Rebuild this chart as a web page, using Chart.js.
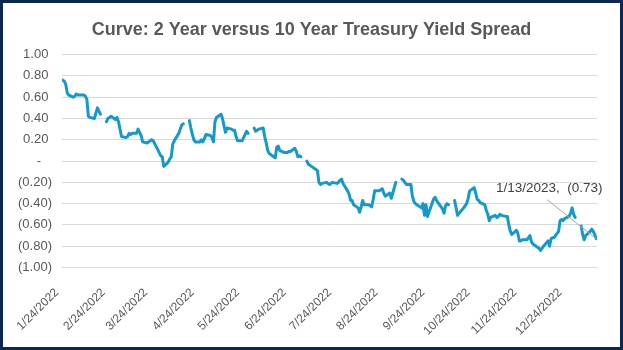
<!DOCTYPE html>
<html>
<head>
<meta charset="utf-8">
<script src="https://cdn.jsdelivr.net/npm/chart.js@4.4.1/dist/chart.umd.min.js"></script>
<style>
  html, body { margin: 0; padding: 0; background: #fff; }
  #wrap { width: 623px; height: 350px; }
</style>
</head>
<body>
<div id="wrap"><canvas id="spreadChart" width="623" height="350"></canvas></div>
<script>
// business days 1/24/2022 .. 1/13/2023, null = market holiday (gap in the line)
const firstDay = "2022-01-24";
const lastDay = "2023-01-13";

const spread = [
  0.76, 0.75, 0.72, 0.64, 0.62,
  0.60, 0.61, 0.63, 0.62, 0.62,
  0.62, 0.61, 0.58, 0.42, 0.41,
  0.40, 0.45, 0.50, 0.47, 0.44,
  null, 0.37, 0.40, 0.41, 0.42,
  0.39, 0.41, 0.37, 0.30, 0.23,
  0.22, 0.23, 0.26, 0.25, 0.26,
  0.26, 0.30, 0.27, 0.24, 0.18,
  0.17, 0.18, 0.19, 0.20, 0.19,
  0.11, 0.08, 0.05, 0.04, -0.05,
  -0.01, 0.02, 0.04, 0.16, 0.19,
  0.26, 0.30, 0.34, 0.35, null,
  0.38, 0.31, 0.25, 0.20, 0.18,
  0.18, 0.20, 0.18, 0.21, 0.25,
  0.24, 0.22, 0.18, 0.37, 0.41,
  0.44, 0.40, 0.33, 0.27, 0.31,
  0.30, 0.29, 0.29, 0.23, 0.19,
  0.19, 0.22, 0.25, 0.28, 0.26,
  null, 0.31, 0.28, 0.29, 0.30,
  0.31, 0.23, 0.17, 0.10, 0.07,
  0.04, 0.03, 0.13, 0.14, 0.10,
  0.08, 0.08, 0.08, 0.09, 0.09,
  0.12, 0.09, 0.04, 0.05, 0.04,
  null, 0.00, -0.03, -0.04, -0.05,
  -0.08, -0.09, -0.20, -0.22, -0.21,
  -0.20, -0.21, -0.22, -0.21, -0.20,
  -0.21, -0.20, -0.18, -0.17, -0.21,
  -0.28, -0.31, -0.37, -0.37, -0.41,
  -0.44, -0.48, -0.43, -0.37, -0.41,
  -0.41, -0.42, -0.43, -0.36, -0.28,
  -0.28, -0.27, -0.26, -0.30, -0.33,
  -0.30, -0.35, -0.30, -0.25, -0.20,
  null, -0.17, -0.18, -0.20, -0.22,
  -0.22, -0.33, -0.38, -0.40, -0.41,
  -0.44, -0.40, -0.51, -0.41, -0.52,
  -0.40, -0.36, -0.34, -0.37, -0.39,
  -0.45, -0.49, -0.42, -0.40, -0.41,
  null, -0.37, -0.44, -0.51, -0.49,
  -0.44, -0.42, -0.40, -0.35, -0.28,
  -0.25, -0.30, -0.36, -0.37, -0.39,
  -0.41, -0.46, -0.50, -0.56, -0.53,
  -0.51, -0.53, -0.52, -0.50, -0.51,
  -0.52, -0.52, -0.60, -0.66, -0.69,
  -0.65, -0.68, -0.75, -0.75, -0.74,
  -0.74, -0.72, -0.70, -0.76, -0.78,
  -0.81, -0.82, -0.84, -0.82, -0.80,
  -0.75, -0.80, -0.73, -0.72, -0.72,
  -0.66, -0.56, -0.55, -0.56, -0.54,
  -0.52, -0.49, -0.44, -0.50, -0.53,
  null, -0.61, -0.69, -0.74, -0.70,
  -0.66, -0.64, -0.66, -0.69, -0.73
];

const tickLabels = [
  "1/24/2022", "2/24/2022", "3/24/2022", "4/24/2022", "5/24/2022", "6/24/2022",
  "7/24/2022", "8/24/2022", "9/24/2022", "10/24/2022", "11/24/2022", "12/24/2022"
];

const titleText = "Curve: 2 Year versus 10 Year Treasury Yield Spread";
const lineColor = "#1499cf";
const textColor = "#595959";

const DAY = 86400000;
const t0 = Date.parse(firstDay + "T00:00:00Z");

function businessDays(from, to) {
  const out = [];
  let t = Date.parse(from + "T00:00:00Z");
  const end = Date.parse(to + "T00:00:00Z");
  while (t <= end) {
    const wd = new Date(t).getUTCDay();
    if (wd !== 0 && wd !== 6) out.push(t);
    t += DAY;
  }
  return out;
}

function parseUS(s) {
  const [m, d, y] = s.split("/").map(Number);
  return Date.UTC(y, m - 1, d);
}

function fmtUS(t) {
  const d = new Date(t);
  return (d.getUTCMonth() + 1) + "/" + d.getUTCDate() + "/" + d.getUTCFullYear();
}

function fmtVal(v) {
  if (Math.abs(v) < 1e-9) return "-";
  return v < 0 ? "(" + (-v).toFixed(2) + ")" : v.toFixed(2);
}

const days = businessDays(firstDay, lastDay);
const points = days.map((t, i) => ({ x: (t - t0) / DAY, y: spread[i] }));
const tickDays = tickLabels.map(s => (parseUS(s) - t0) / DAY);
const lastIdx = days.length - 1;
const lastText = fmtUS(days[lastIdx]) + ",  " + fmtVal(spread[lastIdx]);

const frame = {
  id: "frame",
  beforeDraw(chart) {
    const c = chart.ctx;
    c.save();
    c.fillStyle = "#fff";
    c.fillRect(0, 0, chart.width, chart.height);
    c.restore();
  },
  afterDraw(chart) {
    const c = chart.ctx;
    c.save();
    c.strokeStyle = "#0c2850";
    c.lineWidth = 3;
    c.strokeRect(1.5, 1.5, chart.width - 3, chart.height - 3);
    c.restore();
  }
};

const lastPointLabel = {
  id: "lastPointLabel",
  afterDatasetsDraw(chart) {
    const meta = chart.getDatasetMeta(0);
    const pt = meta.data[meta.data.length - 1];
    const c = chart.ctx;
    c.save();
    c.strokeStyle = "#a6a6a6";
    c.lineWidth = 1;
    c.beginPath();
    c.moveTo(pt.x - 49, pt.y - 39);
    c.lineTo(pt.x, pt.y);
    c.stroke();
    c.fillStyle = "#404040";
    c.font = "13.5px 'Liberation Sans'";
    c.textAlign = "center";
    c.textBaseline = "middle";
    c.fillText(lastText, pt.x - 47, pt.y - 50);
    c.restore();
  }
};

const ctx = document.getElementById("spreadChart").getContext("2d");

new Chart(ctx, {
  type: "line",
  data: {
    datasets: [{
      label: "2s10s",
      data: points,
      borderColor: lineColor,
      borderWidth: 3,
      pointRadius: 0,
      tension: 0,
      borderJoinStyle: "round",
      borderCapStyle: "round",
      spanGaps: false
    }]
  },
  options: {
    responsive: false,
    animation: false,
    devicePixelRatio: 1,
    layout: { padding: 0 },
    plugins: {
      legend: { display: false },
      tooltip: { enabled: false },
      title: {
        display: true,
        text: titleText,
        color: textColor,
        font: { family: "Liberation Sans", size: 18, weight: "bold" },
        padding: { top: 19, bottom: 14 }
      }
    },
    scales: {
      x: {
        type: "linear",
        min: -0.5,
        max: 354.5,
        grid: { display: false },
        border: { display: false },
        afterBuildTicks: scale => { scale.ticks = tickDays.map(v => ({ value: v })); },
        afterFit: scale => { scale.height = 82.5; },
        ticks: {
          autoSkip: false,
          minRotation: 45,
          maxRotation: 45,
          padding: 10,
          labelOffset: -6,
          color: textColor,
          font: { family: "Liberation Sans", size: 12 },
          callback: v => tickLabels[tickDays.indexOf(v)] || ""
        }
      },
      y: {
        min: -1,
        max: 1,
        afterFit: scale => { scale.width = 62; },
        border: { display: false },
        grid: { color: "#d9d9d9", drawTicks: false },
        ticks: {
          stepSize: 0.2,
          padding: 10,
          color: textColor,
          font: { family: "Liberation Sans", size: 13 },
          callback: v => {
            const s = fmtVal(v);
            if (s === "-") return "-   ";
            return v > 0 ? s + " " : s;
          }
        }
      },
      // empty right-hand margin so the title stays centred on the whole frame
      yRight: {
        position: "right",
        afterFit: scale => { scale.width = 26; },
        border: { display: false },
        grid: { display: false },
        ticks: { display: false }
      }
    }
  },
  plugins: [frame, lastPointLabel]
});
</script>
</body>
</html>
